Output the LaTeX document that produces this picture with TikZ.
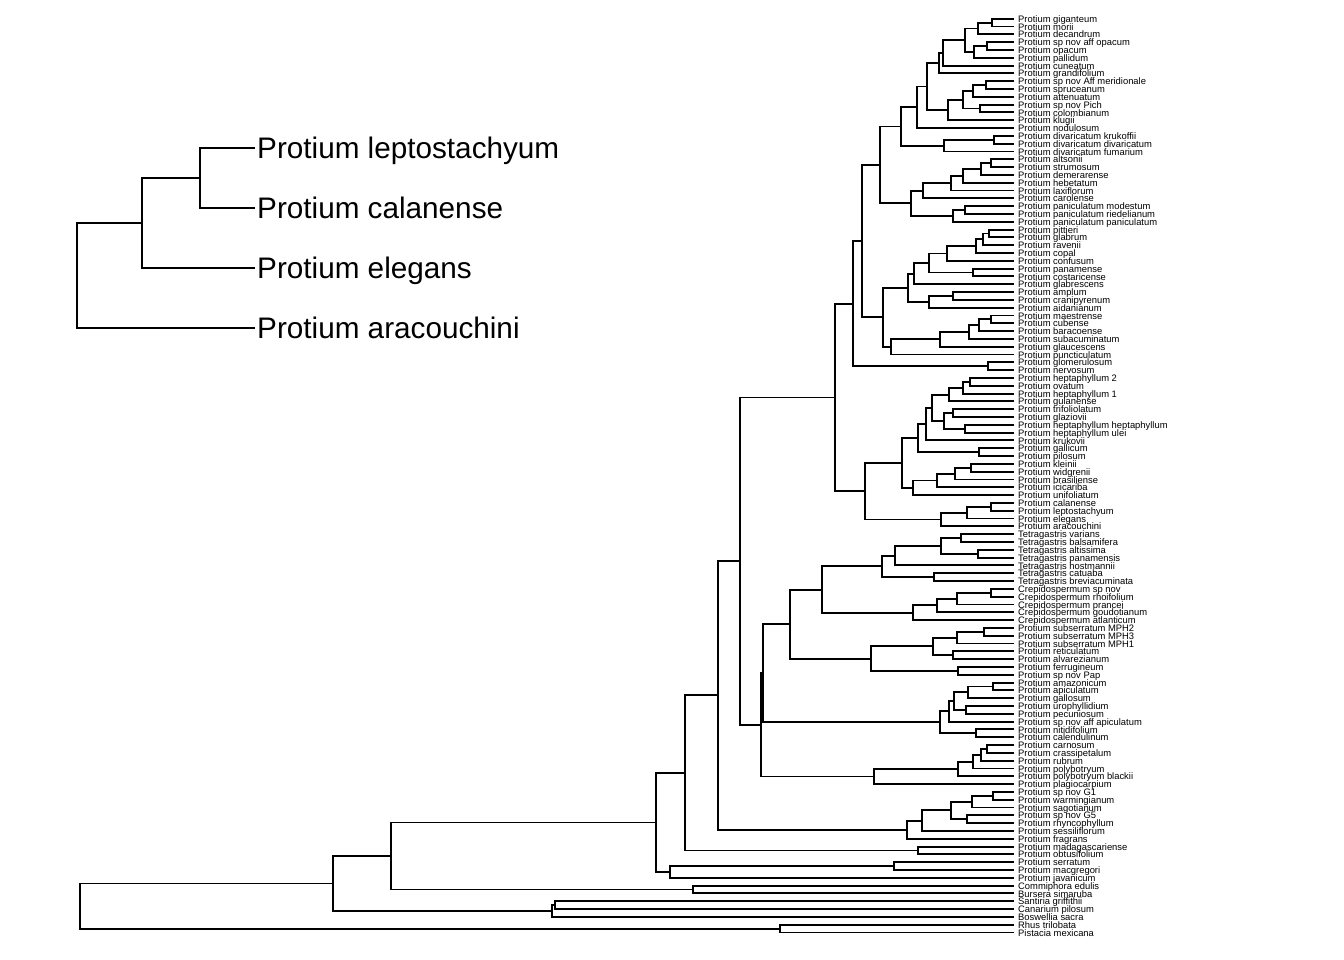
\documentclass[tikz,border=0pt]{standalone}
\usepackage{fontspec}
\setmainfont{Liberation Sans}
\usetikzlibrary{calc}
\tikzset{
  br/.style={line width=1.9pt},
  tl/.style={anchor=base west,inner sep=0pt,xshift=4pt,yshift=-3.6pt,font=\fontsize{9.4}{9.4}\selectfont},
  il/.style={anchor=base west,inner sep=0pt,xshift=2pt,yshift=-10.8pt,font=\fontsize{29.7}{30}\selectfont}
}
\newcommand\tip[2]{\coordinate (t#1) at (1014,{18.7+(#1-1)*7.81});
  \node[tl] (l#1) at (t#1) {#2};}
\newcommand\cl[4]{\path (#3) -- (#4) coordinate[pos=.5] (m#1);
  \coordinate (#1) at (m#1 -| #2,0);
  \draw[br] (#1) |- (#3) (#1) |- (#4);}
\begin{document}
\begin{tikzpicture}[x=1pt,y=-1pt]
\useasboundingbox (0,0) rectangle (1344,960);
\tip{1}{Protium giganteum}
\tip{2}{Protium morii}
\tip{3}{Protium decandrum}
\tip{4}{Protium sp nov aff opacum}
\tip{5}{Protium opacum}
\tip{6}{Protium pallidum}
\tip{7}{Protium cuneatum}
\tip{8}{Protium grandifolium}
\tip{9}{Protium sp nov Aff meridionale}
\tip{10}{Protium spruceanum}
\tip{11}{Protium attenuatum}
\tip{12}{Protium sp nov Pich}
\tip{13}{Protium colombianum}
\tip{14}{Protium klugii}
\tip{15}{Protium nodulosum}
\tip{16}{Protium divaricatum krukoffii}
\tip{17}{Protium divaricatum divaricatum}
\tip{18}{Protium divaricatum fumarium}
\tip{19}{Protium altsonii}
\tip{20}{Protium strumosum}
\tip{21}{Protium demerarense}
\tip{22}{Protium hebetatum}
\tip{23}{Protium laxiflorum}
\tip{24}{Protium carolense}
\tip{25}{Protium paniculatum modestum}
\tip{26}{Protium paniculatum riedelianum}
\tip{27}{Protium paniculatum paniculatum}
\tip{28}{Protium pittieri}
\tip{29}{Protium glabrum}
\tip{30}{Protium ravenii}
\tip{31}{Protium copal}
\tip{32}{Protium confusum}
\tip{33}{Protium panamense}
\tip{34}{Protium costaricense}
\tip{35}{Protium glabrescens}
\tip{36}{Protium amplum}
\tip{37}{Protium cranipyrenum}
\tip{38}{Protium aidanianum}
\tip{39}{Protium maestrense}
\tip{40}{Protium cubense}
\tip{41}{Protium baracoense}
\tip{42}{Protium subacuminatum}
\tip{43}{Protium glaucescens}
\tip{44}{Protium puncticulatum}
\tip{45}{Protium glomerulosum}
\tip{46}{Protium nervosum}
\tip{47}{Protium heptaphyllum 2}
\tip{48}{Protium ovatum}
\tip{49}{Protium heptaphyllum 1}
\tip{50}{Protium guianense}
\tip{51}{Protium trifoliolatum}
\tip{52}{Protium glaziovii}
\tip{53}{Protium heptaphyllum heptaphyllum}
\tip{54}{Protium heptaphyllum ulei}
\tip{55}{Protium krukovii}
\tip{56}{Protium gallicum}
\tip{57}{Protium pilosum}
\tip{58}{Protium kleinii}
\tip{59}{Protium widgrenii}
\tip{60}{Protium brasiliense}
\tip{61}{Protium icicariba}
\tip{62}{Protium unifoliatum}
\tip{63}{Protium calanense}
\tip{64}{Protium leptostachyum}
\tip{65}{Protium elegans}
\tip{66}{Protium aracouchini}
\tip{67}{Tetragastris varians}
\tip{68}{Tetragastris balsamifera}
\tip{69}{Tetragastris altissima}
\tip{70}{Tetragastris panamensis}
\tip{71}{Tetragastris hostmannii}
\tip{72}{Tetragastris catuaba}
\tip{73}{Tetragastris breviacuminata}
\tip{74}{Crepidospermum sp nov}
\tip{75}{Crepidospermum rhoifolium}
\tip{76}{Crepidospermum prancei}
\tip{77}{Crepidospermum goudotianum}
\tip{78}{Crepidospermum atlanticum}
\tip{79}{Protium subserratum MPH2}
\tip{80}{Protium subserratum MPH3}
\tip{81}{Protium subserratum MPH1}
\tip{82}{Protium reticulatum}
\tip{83}{Protium alvarezianum}
\tip{84}{Protium ferrugineum}
\tip{85}{Protium sp nov Pap}
\tip{86}{Protium amazonicum}
\tip{87}{Protium apiculatum}
\tip{88}{Protium gallosum}
\tip{89}{Protium urophyllidium}
\tip{90}{Protium pecuniosum}
\tip{91}{Protium sp nov aff apiculatum}
\tip{92}{Protium nitidifolium}
\tip{93}{Protium calendulinum}
\tip{94}{Protium carnosum}
\tip{95}{Protium crassipetalum}
\tip{96}{Protium rubrum}
\tip{97}{Protium polybotryum}
\tip{98}{Protium polybotryum blackii}
\tip{99}{Protium plagiocarpium}
\tip{100}{Protium sp nov G1}
\tip{101}{Protium warmingianum}
\tip{102}{Protium sagotianum}
\tip{103}{Protium sp nov G5}
\tip{104}{Protium rhyncophyllum}
\tip{105}{Protium sessiliflorum}
\tip{106}{Protium fragrans}
\tip{107}{Protium madagascariense}
\tip{108}{Protium obtusifolium}
\tip{109}{Protium serratum}
\tip{110}{Protium macgregori}
\tip{111}{Protium javanicum}
\tip{112}{Commiphora edulis}
\tip{113}{Bursera simaruba}
\tip{114}{Santiria griffithii}
\tip{115}{Canarium pilosum}
\tip{116}{Boswellia sacra}
\tip{117}{Rhus trilobata}
\tip{118}{Pistacia mexicana}
% clade A
\cl{a1}{992.3}{t1}{t2}
\cl{a2}{977.7}{a1}{t3}
\cl{a3}{987.3}{t4}{t5}
\cl{a4}{974.3}{a3}{t6}
\cl{a5}{965}{a2}{a4}
\cl{a6}{943.3}{a5}{t7}
\cl{a7}{939}{a6}{t8}
\cl{b1}{985.7}{t9}{t10}
\cl{b2}{973.3}{b1}{t11}
\cl{b3}{980}{t12}{t13}
\cl{b4}{962.7}{b2}{b3}
\cl{b5}{948.3}{b4}{t14}
\cl{a8}{927.3}{a7}{b5}
\cl{a9}{916.7}{a8}{t15}
\cl{c1}{994.3}{t16}{t17}
\cl{c2}{944.3}{c1}{t18}
\cl{a10}{901}{a9}{c2}
\cl{d1}{991}{t19}{t20}
\cl{d2}{981}{d1}{t21}
\cl{d3}{963.3}{d2}{t22}
\cl{d4}{950.7}{d3}{t23}
\cl{d5}{922.7}{d4}{t24}
\cl{e1}{965}{t25}{t26}
\cl{e2}{952.7}{e1}{t27}
\cl{d6}{911}{d5}{e2}
\cl{a11}{880}{a10}{d6}
\cl{f1}{989.3}{t28}{t29}
\cl{f2}{982.7}{f1}{t30}
\cl{f3}{976}{f2}{t31}
\cl{f4}{946.7}{f3}{t32}
\cl{f5}{972.7}{t33}{t34}
\cl{f6}{929.3}{f4}{f5}
\cl{f7}{914.3}{f6}{t35}
\cl{g1}{952.7}{t36}{t37}
\cl{g2}{929.3}{g1}{t38}
\cl{f8}{907.7}{f7}{g2}
\cl{h1}{991}{t39}{t40}
\cl{h2}{979.3}{h1}{t41}
\cl{h3}{969.3}{h2}{t42}
\cl{h4}{940}{h3}{t43}
\cl{h5}{891}{h4}{t44}
\cl{f9}{883.3}{f8}{h5}
\cl{a12}{862.3}{a11}{f9}
\cl{i1}{988.3}{t45}{t46}
\cl{a13}{853.3}{a12}{i1}
% clade J
\cl{j1}{970}{t47}{t48}
\cl{j2}{963.3}{j1}{t49}
\cl{j3}{949.3}{j2}{t50}
\cl{j4}{953.3}{t51}{t52}
\cl{j5}{965}{t53}{t54}
\cl{j6}{944.3}{j4}{j5}
\cl{j7}{931.7}{j3}{j6}
\cl{j8}{926}{j7}{t55}
\cl{j9}{979.3}{t56}{t57}
\cl{j10}{918.3}{j8}{j9}
\cl{k1}{971}{t58}{t59}
\cl{k2}{955}{k1}{t60}
\cl{k3}{936.7}{k2}{t61}
\cl{k4}{912.7}{k3}{t62}
\cl{j11}{901.7}{j10}{k4}
\cl{l1}{991}{t63}{t64}
\cl{l2}{966.7}{l1}{t65}
\cl{l3}{941}{l2}{t66}
\cl{j12}{865}{j11}{l3}
\cl{P}{835}{a13}{j12}
% Tetragastris etc.
\cl{m1}{961}{t67}{t68}
\cl{m2}{977.7}{t69}{t70}
\cl{m3}{941}{m1}{m2}
\cl{m4}{895}{m3}{t71}
\cl{m5}{934.3}{t72}{t73}
\cl{m6}{881.7}{m4}{m5}
\cl{n1}{991}{t74}{t75}
\cl{n2}{956.7}{n1}{t76}
\cl{n3}{937.3}{n2}{t77}
\cl{n4}{912.7}{n3}{t78}
\cl{m7}{822}{m6}{n4}
\cl{o1}{984.3}{t79}{t80}
\cl{o2}{956.7}{o1}{t81}
\cl{o3}{952.7}{t82}{t83}
\cl{o4}{933.3}{o2}{o3}
\cl{o5}{958.3}{t84}{t85}
\cl{o6}{871}{o4}{o5}
\cl{m8}{790}{m7}{o6}
\cl{q1}{992.7}{t86}{t87}
\cl{q2}{967.7}{q1}{t88}
\cl{q3}{966}{t89}{t90}
\cl{q4}{954}{q2}{q3}
\cl{q5}{949.3}{q4}{t91}
\cl{q6}{975.7}{t92}{t93}
\cl{q7}{940}{q5}{q6}
\cl{r1}{986.7}{t94}{t95}
\cl{r2}{981}{r1}{t96}
\cl{r3}{972.7}{r2}{t97}
\cl{r4}{957.7}{r3}{t98}
\cl{r5}{874.3}{r4}{t99}
\cl{s1}{992.7}{t100}{t101}
\cl{s2}{971.7}{s1}{t102}
\cl{s3}{966.7}{t103}{t104}
\cl{s4}{950.7}{s2}{s3}
\cl{s5}{921.7}{s4}{t105}
\cl{s6}{907.3}{s5}{t106}
\cl{u1}{917.7}{t107}{t108}
\cl{v1}{894}{t109}{t110}
% deep structure
\cl{LA}{763}{m8}{q7}
\cl{LB}{761}{LA}{r5}
\cl{L2}{740}{P}{LB}
\cl{L3}{718}{L2}{s6}
\cl{L5}{685}{L3}{u1}
\cl{V}{670}{v1}{t111}
\cl{L6}{656}{L5}{V}
\cl{w1}{693}{t112}{t113}
\cl{O1}{391}{L6}{w1}
\cl{x1}{555}{t114}{t115}
\cl{x2}{552}{x1}{t116}
\cl{O2}{333}{O1}{x2}
\cl{y1}{780}{t117}{t118}
\cl{root}{80}{O2}{y1}
% inset tree
\coordinate (it1) at (255,148);
\coordinate (it2) at (255,208);
\coordinate (it3) at (255,268);
\coordinate (it4) at (255,328);
\node[il] (il1) at (it1) {Protium leptostachyum};
\node[il] (il2) at (it2) {Protium calanense};
\node[il] (il3) at (it3) {Protium elegans};
\node[il] (il4) at (it4) {Protium aracouchini};
\cl{ia}{200}{it1}{it2}
\cl{ib}{142}{ia}{it3}
\cl{ic}{77}{ib}{it4}
\end{tikzpicture}
\end{document}
